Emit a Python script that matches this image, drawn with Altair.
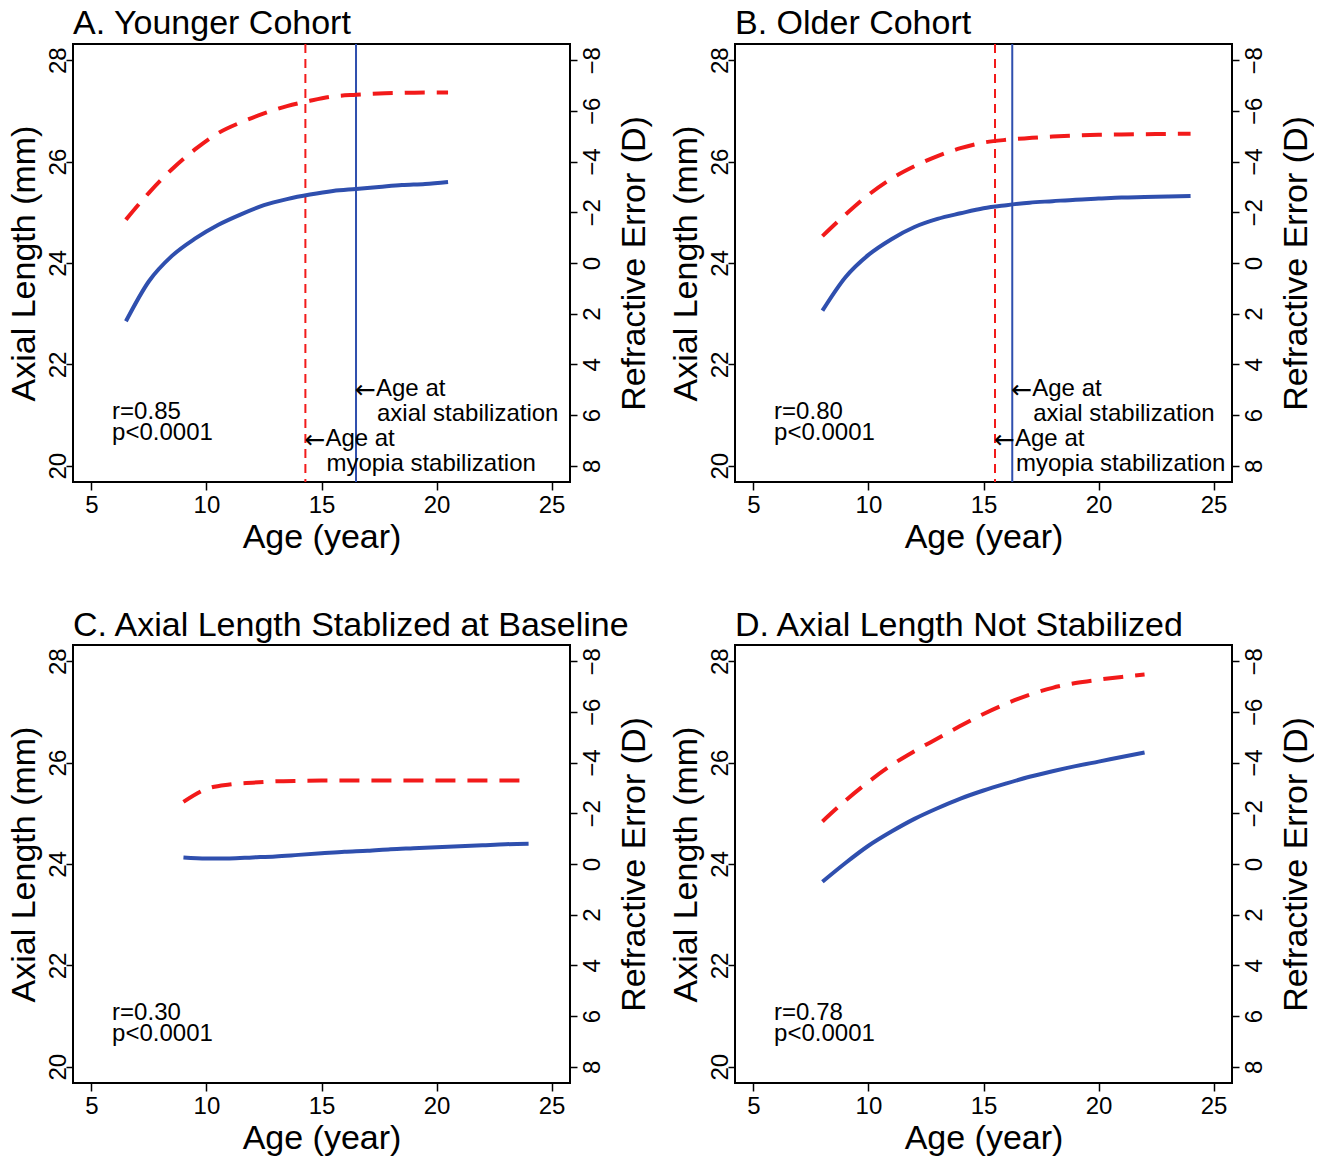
import altair as alt
import pandas as pd

FONT = "Liberation Sans"
BLUE = "#2f4fae"
RED = "#f21a1a"

# ---------------- data ----------------
# Panel A: younger cohort
a_age = [6.5, 7.5, 8.5, 9.5, 10.5, 11.5, 12.5, 13.5, 14.5, 15.5, 16.5, 17.5, 18.5, 19.5, 20.5]
a_al = [22.85, 23.64, 24.14, 24.48, 24.75, 24.96, 25.14, 25.26, 25.35, 25.42, 25.46, 25.50, 25.54, 25.56, 25.60]
a_re = [-1.71, -2.77, -3.70, -4.48, -5.12, -5.55, -5.90, -6.19, -6.40, -6.57, -6.64, -6.69, -6.71, -6.73, -6.73]
a_stab = [14.3, 16.5]  # myopia, axial

# Panel B: older cohort
b_age = [8, 9, 10, 11, 12, 13, 14, 15, 16, 17, 18, 19, 20, 21, 22, 23, 24]
b_al = [23.06, 23.72, 24.16, 24.47, 24.71, 24.87, 24.98, 25.08, 25.14, 25.19, 25.22, 25.25, 25.27, 25.29, 25.30, 25.31, 25.32]
b_re = [-1.06, -1.91, -2.69, -3.33, -3.82, -4.22, -4.53, -4.75, -4.86, -4.93, -4.99, -5.03, -5.06, -5.07, -5.08, -5.09, -5.10]
b_stab = [15.5, 16.25]

# Panel C: axial length stabilized at baseline
c_age = [9, 10, 11, 12, 13, 14, 15, 16, 17, 18, 19, 20, 21, 22, 23, 24]
c_al = [24.13, 24.11, 24.11, 24.13, 24.15, 24.18, 24.21, 24.24, 24.26, 24.29, 24.31, 24.33, 24.35, 24.37, 24.39, 24.40]
c_re = [-2.45, -2.96, -3.14, -3.21, -3.26, -3.28, -3.29, -3.29, -3.29, -3.29, -3.29, -3.29, -3.29, -3.29, -3.29, -3.29]

# Panel D: axial length not stabilized
d_age = [8, 9, 10, 11, 12, 13, 14, 15, 16, 17, 18, 19, 20, 21, 22]
d_al = [23.65, 24.02, 24.36, 24.64, 24.89, 25.10, 25.29, 25.45, 25.59, 25.72, 25.83, 25.93, 26.02, 26.11, 26.20]
d_re = [-1.68, -2.50, -3.24, -3.90, -4.45, -4.95, -5.45, -5.92, -6.33, -6.68, -6.95, -7.14, -7.27, -7.38, -7.48]

titles = ["A. Younger Cohort", "B. Older Cohort",
          "C. Axial Length Stablized at Baseline", "D. Axial Length Not Stabilized"]
r_values = ["0.85", "0.80", "0.30", "0.78"]
p_text = "p<0.0001"

x_ticks = [5, 10, 15, 20, 25]
al_ticks = [20, 22, 24, 26, 28]
re_ticks = [-8, -6, -4, -2, 0, 2, 4, 6, 8]

# annotation anchors (data units)
stat_age = 5.9
stat_al = [21.07, 20.64]
axial_note_al = [21.51, 21.03]
myopia_note_al = [20.52, 20.04]

W, H = 497, 438

x_scale = alt.Scale(domain=[4.2, 25.8], nice=False, zero=False)
al_scale = alt.Scale(domain=[19.68, 28.32], nice=False, zero=False)
re_scale = alt.Scale(domain=[-8.64, 8.64], reverse=True, nice=False, zero=False)

x_axis = alt.Axis(values=x_ticks, title="Age (year)", tickSize=8, labelPadding=3,
                  labelFontSize=24, titleFontSize=34, titleBaseline="alphabetic",
                  titleX=W / 2, titleY=65, titleAlign="center", format="d")
left_axis = alt.Axis(orient="left", values=al_ticks, title="Axial Length (mm)", tickSize=7,
                     labelPadding=1, labelAngle=270, labelAlign="center",
                     labelBaseline="alphabetic", labelFontSize=24, titleFontSize=34,
                     titleAngle=270, titleBaseline="alphabetic", titleAlign="center",
                     titleX=-39, titleY=H / 2, format="d")
right_axis = alt.Axis(orient="right", values=re_ticks, title="Refractive Error (D)", tickSize=7,
                      labelPadding=3, labelAngle=270, labelAlign="center",
                      labelBaseline="top", labelFontSize=24, titleFontSize=34,
                      titleAngle=270, titleBaseline="alphabetic", titleAlign="center",
                      titleX=74, titleY=H / 2, format="d")

TXT = dict(align="left", baseline="middle", fontSize=24, font=FONT, color="black")


def panel(title, age, al, re, r_val, stab=None):
    df = pd.DataFrame({"age": age, "al": al, "re": re})
    X = alt.X("age:Q", scale=x_scale, axis=x_axis)
    Y = alt.Y("al:Q", scale=al_scale, axis=left_axis)

    blue = alt.Chart(df).mark_line(color=BLUE, strokeWidth=4, interpolate="monotone").encode(x=X, y=Y)

    stats_df = pd.DataFrame({"age": [stat_age, stat_age], "al": stat_al,
                             "label": ["r=" + r_val, p_text]})
    stats = alt.Chart(stats_df).mark_text(**TXT).encode(x=X, y=Y, text="label:N")
    layers = [blue, stats]

    if stab is not None:
        myo, axl = stab
        r1 = alt.Chart(pd.DataFrame({"age": [myo]})).mark_rule(
            color=RED, strokeWidth=2, strokeDash=[9, 6]).encode(x=X)
        r2 = alt.Chart(pd.DataFrame({"age": [axl]})).mark_rule(
            color=BLUE, strokeWidth=2).encode(x=X)
        head_df = pd.DataFrame({"age": [axl, myo], "al": [axial_note_al[0], myopia_note_al[0]],
                                "label": ["Age at", "Age at"], "arrow": ["\u2190", "\u2190"]})
        tail_df = pd.DataFrame({"age": [axl, myo], "al": [axial_note_al[1], myopia_note_al[1]],
                                "label": ["axial stabilization", "myopia stabilization"]})
        arrows = alt.Chart(head_df).mark_text(
            align="left", baseline="middle", fontSize=25, font="DejaVu Sans",
            color="black", dx=-1, dy=1).encode(x=X, y=Y, text="arrow:N")
        heads = alt.Chart(head_df).mark_text(**TXT, dx=20).encode(x=X, y=Y, text="label:N")
        tails = alt.Chart(tail_df).mark_text(**TXT, dx=21).encode(x=X, y=Y, text="label:N")
        layers = [r1, r2, blue, stats, arrows, heads, tails]

    left = alt.layer(*layers)
    red = alt.Chart(df).mark_line(color=RED, strokeWidth=4, strokeDash=[20, 12],
                                  interpolate="monotone").encode(
        x=X, y=alt.Y("re:Q", scale=re_scale, axis=right_axis))

    return alt.layer(left, red).resolve_scale(y="independent").properties(
        width=W, height=H,
        title=alt.TitleParams(text=title, anchor="start", frame="group", fontSize=34,
                              font=FONT, fontWeight="normal", baseline="alphabetic",
                              offset=-25, color="black"))


pA = panel(titles[0], a_age, a_al, a_re, r_values[0], a_stab)
pB = panel(titles[1], b_age, b_al, b_re, r_values[1], b_stab)
pC = panel(titles[2], c_age, c_al, c_re, r_values[2])
pD = panel(titles[3], d_age, d_al, d_re, r_values[3])

chart = alt.concat(pA, pB, pC, pD, columns=2, spacing={"row": 163, "column": 165},
                   bounds="flush").resolve_scale(
    x="independent", y="independent"
).properties(padding={"left": -3, "top": -2, "right": 0, "bottom": 0},
             background="white").configure(font=FONT).configure_view(
    stroke="black", strokeWidth=2
).configure_axis(
    domain=False, grid=False, tickColor="black", tickWidth=1.5,
    labelColor="black", titleColor="black", labelFont=FONT, titleFont=FONT,
    titleFontWeight="normal"
)

chart.save("out.html", embed_options={"renderer": "svg", "actions": False})
